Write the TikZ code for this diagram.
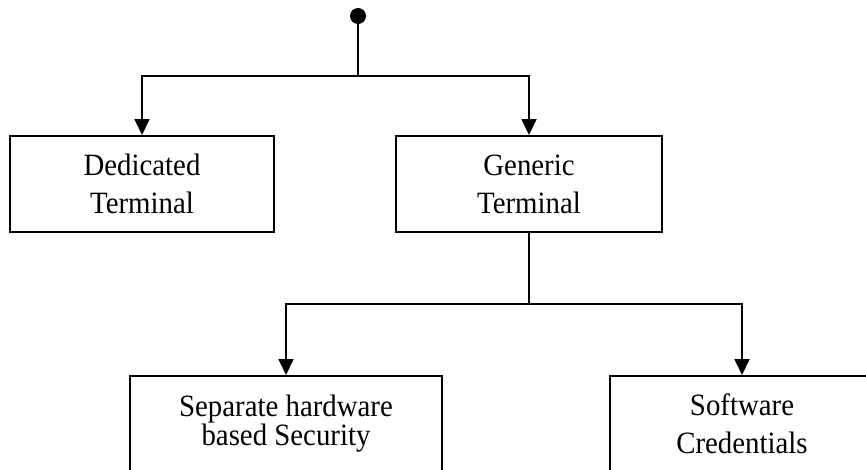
\documentclass[tikz,border=0pt]{standalone}
\usepackage{fontspec}
\setmainfont{Liberation Serif}[FakeStretch=0.93]
\usetikzlibrary{arrows.meta}
\begin{document}
\begin{tikzpicture}[x=1pt,y=-1pt,
  line/.style={line width=1.8pt},
  arr/.style={line, -{Triangle[length=16pt,width=15pt]}},
  box/.style={draw, line width=2pt, rectangle, minimum height=96pt,
    inner sep=0pt, align=center, font=\fontsize{31}{38}\selectfont},
  dot/.style={circle, fill, inner sep=0pt, minimum size=16pt}]
\clip (0,0) rectangle (866,469);
% start point and first level
\node[dot] (root) at (358,16) {};
\node[box, minimum width=264pt] (ded) at (142,184) {Dedicated\\Terminal};
\node[box, minimum width=266pt] (gen) at (529,184) {Generic\\Terminal};
% second level
\node[box, minimum width=312pt, font=\fontsize{31}{28}\selectfont] (hw) at (286,424)
  {Separate hardware\\based Security};
\node[box, minimum width=264pt] (sw) at (742,424) {Software\\Credentials};
% connectors
\coordinate (bar1) at (358,76);
\coordinate (bar2) at (529,304);
\draw[line] (root.center) -- (bar1);
\draw[arr] (bar1) -| (ded.north);
\draw[arr] (bar1) -| (gen.north);
\draw[line] (gen.south) -- (bar2);
\draw[arr] (bar2) -| (hw.north);
\draw[arr] (bar2) -| (sw.north);
\end{tikzpicture}
\end{document}
